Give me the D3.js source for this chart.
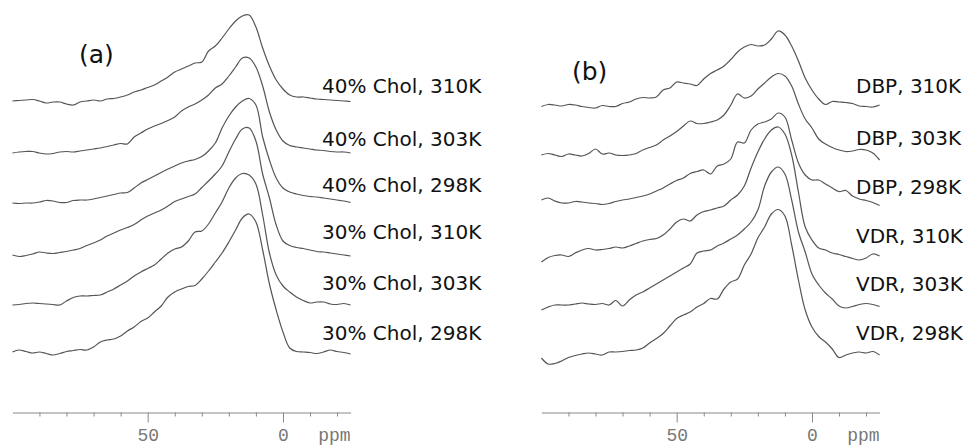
<!DOCTYPE html>
<html>
<head>
<meta charset="utf-8">
<script src="https://cdn.jsdelivr.net/npm/d3@7"></script>
<style>
    body { margin: 0; background: #fff; }
    .spektrum { fill: none; stroke: #555; stroke-width: 1.2; }
    .label { font-family: "DejaVu Sans", Verdana, sans-serif; font-size: 20px; fill: #111; }
    .panelLabel { font-family: "DejaVu Sans", Verdana, sans-serif; font-size: 25px; fill: #111; }
    .tickLabel { font-family: "Liberation Mono", monospace; font-size: 18px; fill: #777; }
</style>
</head>
<body>
<div id="wrapper"></div>
<script>

// chemical shift grid (ppm), same for every spectrum
const ppm = [100, 97.5, 95, 92.5, 90, 87.5, 85, 82.5, 80, 77.5, 75, 72.5, 70, 67.5, 65, 62.5, 60, 57.5, 55, 52.5,
    50, 47.5, 45, 42.5, 40, 37.5, 35, 32.5, 30, 27.5, 25, 22.5, 20, 17.5, 15, 12.5, 10, 7.5, 5, 2.5,
    0, -2.5, -5, -7.5, -10, -12.5, -15, -17.5, -20, -22.5, -25];

// panel (a) - intensities (a.u.)
const chol40_310 = [0, 0.5, 1, 1.5, 0, -2, -1, -1, -3, -4, -1, 0, 1, 0, 2, 2.5, 4, 6, 9, 11, 13.5, 16, 20, 24, 29, 32, 35, 38, 39, 50, 55, 63, 72, 80, 85, 86, 74, 53, 35, 21, 12, 6, 4, 4, 3, 2, 1.5, 1, 0.5, 0, -0.5];
const chol40_303 = [-1, 0, 0.5, 0.5, -1, -2, -1.5, 0, 0.5, 0, 1, 2, 3, 4, 5.5, 7, 8.5, 8, 15, 19, 23, 26, 28.5, 31.5, 35, 41, 45, 48, 52, 57, 64, 68, 76, 85, 94, 94, 85, 66, 40, 22, 11, 6.5, 5, 4, 3, 2, 1.5, 0.5, 0, 0, -1];
const chol40_298 = [0, -0.5, 0, 0, 1, 2.5, 2, 0.5, 0.5, 2.5, 3, 3, 4, 5.5, 7, 8.5, 10, 10.5, 15, 20, 23.5, 27, 30.5, 34, 37, 40, 42, 43.5, 46.5, 52, 60, 75, 87, 96, 102, 104.5, 98, 66, 43, 25, 15, 11, 9, 7.5, 6.5, 6, 5, 4, 3, 2, 0.5];
const chol30_310 = [0, -1.5, -0.5, 1, 3, 2, 1.5, 2.5, 3.5, 5, 6.5, 9.5, 12, 15, 19, 22, 25, 27.5, 30.5, 35, 39, 42, 45, 49, 53.5, 56, 58.5, 61, 67.5, 74, 81, 89, 103, 116, 126, 127, 114, 81, 57, 30, 14, 9.5, 7.5, 6.5, 5, 3.5, 3, 2, 1, 0, -1];
const chol30_303 = [0, 0.5, 1.5, 2, 1.5, 1, 0.5, 0, 4, 7.5, 9, 9, 9.5, 10, 13, 16, 20, 24, 29, 33, 36.5, 40, 46, 52, 56, 58, 64, 73, 74, 81, 92, 103, 117, 127, 131.5, 130, 121, 90, 52, 30, 19, 13, 8, 4.5, 2, 3, 3, 1, 0.5, 1.5, 0];
const chol30_298 = [0, 2, 0.5, -1, 0, -1.5, -3, -1.5, 0.5, 1.5, 2.5, 2, 5, 10, 12, 13, 16, 21, 25, 30.5, 34, 40, 46, 55, 60, 63, 65.5, 66.5, 73, 81, 90, 99, 110, 122, 134, 138, 130, 102, 68, 42, 20, 4, 0.5, 0, -0.5, -1.5, 0, 2, 0.5, -0.5, -2];

// panel (b)
const dbp_310 = [-0.5, 1.5, 1, 0, 1.5, 1, -0.5, -1.5, -2, 0.5, -0.5, -0.5, 2.5, 4, 7, 8.5, 8, 9, 16, 18, 24, 23, 22, 20.5, 27, 32.5, 36, 40, 46.5, 54, 59, 61.5, 60, 61, 67, 75, 71, 60, 45, 28, 16, 7, 1.5, 4.5, 4, 3.5, 2.5, 0, -0.5, -1, 1];
const dbp_303 = [0, 1.5, 0, -1.5, 1, 0, -1, 1.5, 6, 1, 2, 0, -0.5, 0, 1.5, 5, 7.5, 10, 15, 19, 23.5, 29, 34, 31.5, 31.5, 33, 35, 40, 50, 61, 57, 59, 66, 72, 78, 81.5, 79, 69, 51, 36, 27, 16, 11, 7.5, 5, 3.5, 4, 5.5, 5, 2, -5];
const dbp_298 = [2, 4, 1, -1, -1, 0.5, 0, -1, -1.5, -2.5, -1.5, 0.5, 2, 3, 4.5, 6, 8, 11, 14, 18, 21.5, 24, 28.5, 30.5, 32, 28, 36, 38, 43, 60, 59, 72, 78, 80, 83, 89, 85, 62, 39, 27, 22, 22, 18, 14, 10.5, 11.5, 6, 3, 1.5, -0.5, -3.5];
const vdr_310 = [-6, -1.5, 0.5, 1, -0.5, 3, 6, 7.5, 6, 6.5, 7.5, 9, 8, 10, 12.5, 15, 16.5, 17.5, 21, 27, 34, 37, 35, 41, 44.5, 46, 48, 50, 56, 61, 70, 88, 104, 117, 126, 129, 122, 101, 64, 29, 16, 8, 6, 3, 1.5, -0.5, -2.5, -4, -2, 2, 0];
const vdr_303 = [-5, -2, 0, 0, 0, 1, 2, 1, 0.5, 1.5, 0, 4.5, -1, 5, 10, 13, 17, 21, 25, 29, 33, 37, 41, 52, 54, 55, 59, 62, 66, 70, 76, 83, 95, 119, 133, 138, 131, 105, 73, 53, 31, 20, 12, 6, -1, -3, -1.5, 0.5, 1.5, 0.5, -1.5];
const vdr_298 = [-3, -9, -8.5, -6, -2.5, -0.5, 1, 2, 1, 0, 3, 3, 3.5, 4.5, 5, 7, 12, 16.5, 21.5, 29, 36.5, 40, 43, 48, 51.5, 56.5, 56, 66, 73, 76, 90, 101, 117, 128, 141, 145.5, 139, 110, 75, 45, 28, 18.5, 13, 6, -2.5, 0, 2, 3, 2, 3.5, 0];

const namesA = ['40% Chol, 310K', '40% Chol, 303K', '40% Chol, 298K', '30% Chol, 310K', '30% Chol, 303K', '30% Chol, 298K'];
const namesB = ['DBP, 310K', 'DBP, 303K', 'DBP, 298K', 'VDR, 310K', 'VDR, 303K', 'VDR, 298K'];

// stacking offsets (same units as intensities)
const offsetsA = [319, 268, 217, 165, 115, 68];
const offsetsB = [314, 265, 218, 164, 115, 65];

const allTicks = [90, 80, 70, 60, 50, 40, 30, 20, 10, 0, -10, -20];
const majorTicks = [50, 0];


function drawChart() {

    const width = 967;
    const height = 447;
    const axisY = 412.5;

    // layout of the two panels
    const panels = [
        {
            left: 12.4, right: 350.6,
            spectra: [chol40_310, chol40_303, chol40_298, chol30_310, chol30_303, chol30_298],
            names: namesA, offsets: offsetsA,
            labelX: 322, labelY: [93, 146, 192, 239, 289.5, 339.5],
            title: '(a)', titleX: 79, titleY: 63
        },
        {
            left: 541.4, right: 879.6,
            spectra: [dbp_310, dbp_303, dbp_298, vdr_310, vdr_303, vdr_298],
            names: namesB, offsets: offsetsB,
            labelX: 856, labelY: [93, 145, 194, 242.5, 290.5, 340],
            title: '(b)', titleX: 572, titleY: 80
        }
    ];

    const wrapper = d3.select('#wrapper')
        .append('svg')
        .attr('width', width)
        .attr('height', height);

    // intensity scale, 1 unit = 1px
    const yScale = d3.scaleLinear()
        .domain([0, 420])
        .range([420, 0]);

    panels.forEach(p => {

        // ppm runs right to left
        const xScale = d3.scaleLinear()
            .domain([100, -25])
            .range([p.left, p.right]);

        /// SPEKTREN
        p.spectra.forEach((values, k) => {
            const line = d3.line()
                .x((d, i) => xScale(ppm[i]))
                .y(d => yScale(p.offsets[k] + d))
                .curve(d3.curveCatmullRom.alpha(0.5));

            wrapper.append('path')
                .datum(values)
                .attr('class', 'spektrum')
                .attr('d', line);
        });

        /// LABELS
        wrapper.selectAll(null)
            .data(p.names)
            .enter()
            .append('text')
            .attr('class', 'label')
            .attr('x', p.labelX)
            .attr('y', (d, i) => p.labelY[i])
            .text(d => d);

        wrapper.append('text')
            .attr('class', 'panelLabel')
            .attr('x', p.titleX)
            .attr('y', p.titleY)
            .text(p.title);

        /// ACHSE
        const xAxis = d3.axisBottom(xScale)
            .tickValues(allTicks)
            .tickSize(4)
            .tickSizeOuter(0)
            .tickFormat(d => majorTicks.includes(d) ? d : '');

        const axisG = wrapper.append('g')
            .attr('transform', `translate(0, ${axisY})`)
            .call(xAxis);

        axisG.select('.domain').attr('stroke', '#888');
        axisG.selectAll('.tick line')
            .attr('stroke', '#888')
            .attr('y2', d => majorTicks.includes(d) ? 10 : 4);
        axisG.selectAll('.tick text')
            .attr('class', 'tickLabel')
            .attr('y', 28)
            .attr('dy', null)
            .attr('font-family', null)
            .attr('font-size', null);
        axisG.attr('font-family', null).attr('font-size', null);

        wrapper.append('text')
            .attr('class', 'tickLabel')
            .attr('x', p.right)
            .attr('y', axisY + 28)
            .attr('text-anchor', 'end')
            .text('ppm');
    });
}

drawChart();
</script>
</body>
</html>
